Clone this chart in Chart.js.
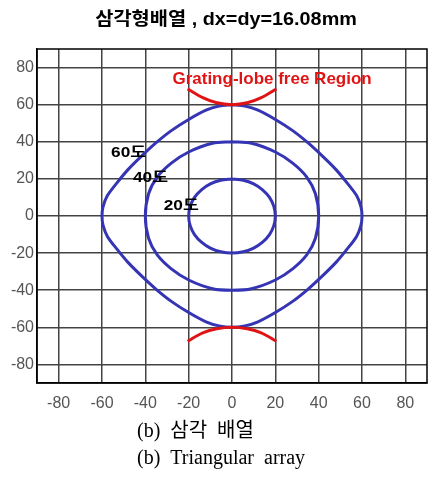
<!DOCTYPE html>
<html>
<head>
<meta charset="utf-8">
<script src="https://cdn.jsdelivr.net/npm/chart.js@4"></script>
<style>
  html, body { margin: 0; padding: 0; background: #fff; }
</style>
</head>
<body>
<canvas id="chart" width="428" height="477"></canvas>
<script>
// axis ticks (degrees)
const tickValues = [-80, -60, -40, -20, 0, 20, 40, 60, 80];

// scan contours, going clockwise from the top
const deg60X = [0, 6, 12, 20, 28, 35, 42, 48, 53, 57.5, 59.5, 60, 59.5, 57.5, 53, 48, 42, 35, 28, 20, 12, 6, 0, -6, -12, -20, -28, -35, -42, -48, -53, -57.5, -59.5, -60, -59.5, -57.5, -53, -48, -42, -35, -28, -20, -12, -6, 0];
const deg60Y = [60, 59.2, 57, 52, 46, 39.5, 32, 25, 18, 11, 5, 0, -5, -11, -18, -25, -32, -39.5, -46, -52, -57, -59.2, -60, -59.2, -57, -52, -46, -39.5, -32, -25, -18, -11, -5, 0, 5, 11, 18, 25, 32, 39.5, 46, 52, 57, 59.2, 60];

const deg40X = [0, 9, 20, 28, 34.5, 38.5, 40, 38.5, 34.5, 28, 20, 9, 0, -9, -20, -28, -34.5, -38.5, -40, -38.5, -34.5, -28, -20, -9, 0];
const deg40Y = [40, 39.2, 34.5, 28.5, 21, 12, 0, -12, -21, -28.5, -34.5, -39.2, -40, -39.2, -34.5, -28.5, -21, -12, 0, 12, 21, 28.5, 34.5, 39.2, 40];

const deg20X = [0, 5.2, 10, 14.1, 17.3, 19.3, 20, 19.3, 17.3, 14.1, 10, 5.2, 0, -5.2, -10, -14.1, -17.3, -19.3, -20, -19.3, -17.3, -14.1, -10, -5.2, 0];
const deg20Y = [20, 19.3, 17.3, 14.1, 10, 5.2, 0, -5.2, -10, -14.1, -17.3, -19.3, -20, -19.3, -17.3, -14.1, -10, -5.2, 0, 5.2, 10, 14.1, 17.3, 19.3, 20];

// grating-lobe boundary arcs
const lobeTopX = [-20.5, -13.5, -7, 0, 7, 13.5, 20.5];
const lobeTopY = [68.5, 63.8, 61, 60, 61, 63.8, 68.5];
const lobeBotX = [-20.5, -13.5, -7, 0, 7, 13.5, 20.5];
const lobeBotY = [-67.5, -63, -60.8, -60, -60.8, -63, -67.5];

function pts(xs, ys) {
  return xs.map((x, i) => ({ x: x, y: ys[i] }));
}

const BLUE = "#3434b4";
const RED = "#e01414";
const SANS = "'Liberation Sans', Arial, 'Noto Sans CJK KR', sans-serif";

function line(data, color) {
  return {
    data: data,
    showLine: true,
    borderColor: color,
    borderWidth: 3,
    pointRadius: 0,
    tension: 0.3,
    fill: false,
  };
}

// draws text stretched horizontally like the scanned figure
function drawText(ctx, text, x, y, font, color, sx, align) {
  ctx.save();
  ctx.font = font;
  ctx.fillStyle = color;
  ctx.textBaseline = "middle";
  ctx.textAlign = align || "center";
  ctx.translate(x, y);
  ctx.scale(sx, 1);
  ctx.fillText(text, 0, 0);
  ctx.restore();
}

const annotate = {
  id: "annotate",
  beforeDatasetsDraw(chart) {
    const { ctx, chartArea: a } = chart;
    ctx.save();
    ctx.strokeStyle = "#000";
    ctx.lineWidth = 1.5;
    ctx.strokeRect(a.left, a.top, a.right - a.left, a.bottom - a.top);
    ctx.restore();
  },
  afterDraw(chart) {
    const ctx = chart.ctx;
    const sx = chart.scales.x, sy = chart.scales.y;
    drawText(ctx, "삼각형배열 , dx=dy=16.08mm", 226, 20, "bold 18px " + SANS, "#000", 1.1);
    drawText(ctx, "Grating-lobe free Region", sx.getPixelForValue(18.5), sy.getPixelForValue(73.4),
      "bold 17px " + SANS, RED, 1);
    const lbl = [["60도", -47.7, 33.8], ["40도", -37.6, 20.6], ["20도", -23.4, 5.2]];
    lbl.forEach(l => {
      drawText(ctx, l[0], sx.getPixelForValue(l[1]), sy.getPixelForValue(l[2]), "bold 15px " + SANS, "#000", 1.15);
    });
    const serif = "20px 'Liberation Serif', 'Times New Roman', 'Noto Sans CJK KR', serif";
    drawText(ctx, "(b)  삼각  배열", 137, 432, serif, "#000", 1, "left");
    drawText(ctx, "(b)  Triangular  array", 137, 459, serif, "#000", 1, "left");
  },
};

const tickFont = { family: SANS, size: 16 };

new Chart(document.getElementById("chart").getContext("2d"), {
  type: "scatter",
  data: {
    datasets: [
      line(pts(lobeTopX, lobeTopY), RED),
      line(pts(lobeBotX, lobeBotY), RED),
      line(pts(deg60X, deg60Y), BLUE),
      line(pts(deg40X, deg40Y), BLUE),
      line(pts(deg20X, deg20Y), BLUE),
    ],
  },
  options: {
    responsive: false,
    animation: false,
    layout: { padding: { top: 49, right: 1, bottom: 58, left: 0 } },
    plugins: {
      legend: { display: false },
      tooltip: { enabled: false },
    },
    scales: {
      x: {
        type: "linear",
        min: -90,
        max: 90,
        afterBuildTicks: (s) => { s.ticks = tickValues.map(v => ({ value: v })); },
        afterFit: (s) => { s.height = 36; },
        grid: { color: "#444", lineWidth: 1.5, drawTicks: false },
        border: { color: "#000", width: 1.5 },
        ticks: { font: tickFont, color: "#555", padding: 11, maxRotation: 0, autoSkip: false },
      },
      y: {
        type: "linear",
        min: -90,
        max: 90,
        afterBuildTicks: (s) => { s.ticks = tickValues.map(v => ({ value: v })); },
        afterFit: (s) => { s.width = 37; },
        grid: { color: "#444", lineWidth: 1.5, drawTicks: false },
        border: { color: "#000", width: 1.5 },
        ticks: { font: tickFont, color: "#555", padding: 3, autoSkip: false },
      },
    },
  },
  plugins: [annotate],
});
</script>
</body>
</html>
